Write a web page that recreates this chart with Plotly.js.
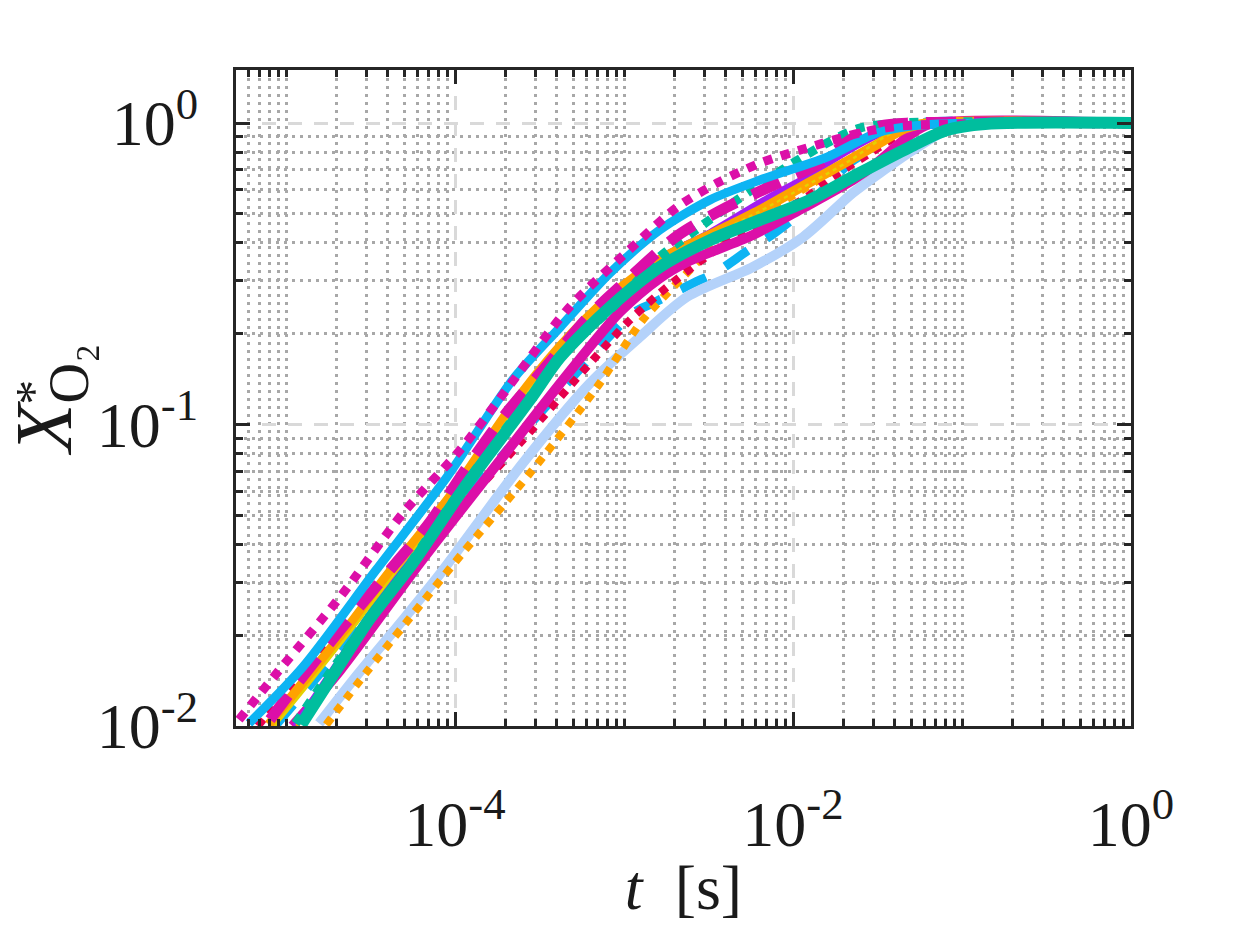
<!DOCTYPE html>
<html>
<head>
<meta charset="utf-8">
<script src="https://cdn.plot.ly/plotly-3.0.1.min.js"></script>
<style>
  body { margin: 0; background: #fff; }
  #chart { width: 1250px; height: 938px; }
</style>
</head>
<body>
<div id="chart"></div>
<script>
// time [s] and normalised O2 mole fraction
const tBlueDash = [8.61e-6, 2.09e-5, 6.21e-5, 1.85e-4, 4.6e-4, 1.13e-3, 1.49e-3, 2.56e-3, 3.55e-3, 5.35e-3, 7.62e-3, 1.1e-2, 2.17e-2, 2.86e-2, 4.02e-2, 5.27e-2, 1];
const xBlueDash = [0.0100, 0.0179, 0.0375, 0.0774, 0.137, 0.234, 0.253, 0.294, 0.321, 0.376, 0.428, 0.503, 0.737, 0.813, 0.948, 1, 1];

const tLightBlue = [1.57e-5, 2.7e-5, 4.92e-5, 8.49e-5, 2.52e-4, 6.29e-4, 1.24e-3, 2.36e-3, 5.79e-3, 1.15e-2, 2.26e-2, 3.27e-2, 5.13e-2, 8.15e-2, 0.128, 1];
const xLightBlue = [0.0102, 0.0150, 0.0225, 0.0329, 0.0745, 0.137, 0.195, 0.265, 0.333, 0.419, 0.586, 0.683, 0.813, 0.948, 0.993, 1];

const tOrangeDot = [1.73e-5, 2.97e-5, 5.13e-5, 1.11e-4, 2.78e-4, 6.92e-4, 1.29e-3, 2.36e-3, 3.7e-3, 6.38e-3, 1.26e-2, 2.17e-2, 4.3e-2, 6.47e-2, 1];
const xOrangeDot = [0.0101, 0.0150, 0.0220, 0.0375, 0.0690, 0.133, 0.222, 0.318, 0.409, 0.495, 0.622, 0.754, 0.927, 1, 1];

const tRedDot = [6.82e-6, 8.73e-6, 1.9e-5, 4.73e-5, 1.07e-4, 2.43e-4, 4.18e-4, 6.56e-4, 1.04e-3, 1.63e-3, 3.7e-3, 7.01e-3, 1.21e-2, 1.73e-2, 2.86e-2, 4.3e-2, 6.47e-2, 1];
const xRedDot = [0.0100, 0.0119, 0.0190, 0.0317, 0.0528, 0.0869, 0.123, 0.164, 0.217, 0.273, 0.388, 0.477, 0.569, 0.662, 0.795, 0.912, 0.984, 1];

const tMagenta = [1.09e-5, 2.09e-5, 6.21e-5, 1.85e-4, 4.6e-4, 9.46e-4, 1.63e-3, 2.36e-3, 5.79e-3, 1.15e-2, 2.26e-2, 3.14e-2, 4.92e-2, 6.47e-2, 1];
const xMagenta = [0.0100, 0.0153, 0.0348, 0.0762, 0.146, 0.236, 0.306, 0.346, 0.425, 0.523, 0.647, 0.737, 0.912, 0.993, 1];

const tPurple = [1.13e-5, 2.26e-5, 5.64e-5, 1.07e-4, 2.43e-4, 4.79e-4, 9.1e-4, 1.63e-3, 3.23e-3, 7.01e-3, 1.26e-2, 2.17e-2, 3.75e-2, 5.64e-2, 1];
const xPurple = [0.0100, 0.0179, 0.0389, 0.0655, 0.121, 0.191, 0.273, 0.357, 0.435, 0.564, 0.673, 0.813, 0.948, 0.993, 1];

const tOrange = [7.93e-6, 1.26e-5, 2.26e-5, 4.06e-5, 9.33e-5, 2.11e-4, 4.18e-4, 8.26e-4, 1.63e-3, 3.23e-3, 6.38e-3, 1.26e-2, 2.17e-2, 3.27e-2, 4.6e-2, 6.47e-2, 1];
const xOrange = [0.0101, 0.0139, 0.0208, 0.0321, 0.0575, 0.112, 0.181, 0.265, 0.352, 0.425, 0.514, 0.637, 0.754, 0.860, 0.960, 1, 1];

const tYellow = [8.61e-6, 1.39e-5, 2.46e-5, 4.42e-5, 1.01e-4, 2.26e-4, 4.36e-4, 8.49e-4, 1.63e-3, 3.23e-3, 6.38e-3, 1.26e-2, 2.17e-2, 4.3e-2, 1];
const xYellow = [0.0100, 0.0139, 0.0208, 0.0321, 0.0575, 0.112, 0.177, 0.259, 0.346, 0.420, 0.510, 0.630, 0.750, 0.950, 1];

const tOrangeDot2 = [1.16e-5, 1.9e-5, 2.97e-5, 5.42e-5, 1.07e-4, 2.67e-4, 4.02e-4, 7.93e-4, 1.63e-3, 3.23e-3, 6.38e-3, 1.26e-2, 2.17e-2, 4.3e-2, 6.47e-2, 1];
const xOrangeDot2 = [0.0100, 0.0153, 0.0225, 0.0348, 0.0607, 0.121, 0.167, 0.254, 0.346, 0.420, 0.510, 0.630, 0.754, 0.948, 1, 1];

const tMagentaDash = [8.04e-6, 1.21e-5, 2.09e-5, 4.12e-5, 7.11e-5, 1.18e-4, 1.98e-4, 3.5e-4, 6.29e-4, 1.04e-3, 2.06e-3, 4.06e-3, 8.37e-3, 1.45e-2, 2.17e-2, 3.27e-2, 4.92e-2, 1];
const xMagentaDash = [0.0105, 0.0142, 0.0208, 0.0329, 0.0475, 0.0723, 0.108, 0.157, 0.231, 0.301, 0.422, 0.526, 0.637, 0.737, 0.879, 0.977, 1, 1];

const tBlue = [6.04e-6, 1.26e-5, 3.41e-5, 8.97e-5, 2.2e-4, 4.18e-4, 8.26e-4, 1.63e-3, 3.23e-3, 6.38e-3, 1.59e-2, 3.14e-2, 5.64e-2, 1];
const xBlue = [0.0102, 0.0157, 0.0329, 0.0670, 0.141, 0.210, 0.318, 0.442, 0.556, 0.647, 0.771, 0.927, 0.984, 1];

const tMagentaDot = [5.27e-6, 9.1e-6, 2.09e-5, 4.92e-5, 1.07e-4, 2.11e-4, 4.6e-4, 1.19e-3, 2.06e-3, 3.55e-3, 6.38e-3, 1.26e-2, 2.49e-2, 4.3e-2, 1];
const xMagentaDot = [0.0105, 0.0153, 0.0268, 0.0508, 0.0822, 0.135, 0.240, 0.400, 0.526, 0.632, 0.736, 0.832, 0.927, 0.977, 1];

const tTealDot = [1.14e-5, 1.86e-5, 4.73e-5, 1.07e-4, 2.43e-4, 4.79e-4, 9.1e-4, 1.63e-3, 2.82e-3, 4.67e-3, 9.6e-3, 1.59e-2, 2.49e-2, 4.3e-2, 1];
const xTealDot = [0.0102, 0.0153, 0.0310, 0.0600, 0.112, 0.181, 0.253, 0.360, 0.452, 0.556, 0.726, 0.859, 0.962, 1, 1];

const tTeal = [1.23e-5, 1.98e-5, 3.1e-5, 5.64e-5, 1.11e-4, 2.78e-4, 4.18e-4, 8.26e-4, 1.63e-3, 3.23e-3, 6.38e-3, 1.26e-2, 2.49e-2, 4.92e-2, 8.15e-2, 0.137, 1];
const xTeal = [0.0101, 0.0153, 0.0225, 0.0348, 0.0607, 0.121, 0.167, 0.245, 0.333, 0.409, 0.477, 0.556, 0.683, 0.832, 0.948, 0.993, 1];

const xTickVals = [1e-4, 1e-2, 1];
const xTickText = ['10<sup>-4</sup>', '10<sup>-2</sup>', '10<sup>0</sup>'];
const yTickVals = [0.01, 0.1, 1];
const yTickText = ['10<sup>-2</sup>', '10<sup>-1</sup>', '10<sup>0</sup>'];

// minor ticks at every digit of each decade except the labelled ones
function minorVals(decades, skip) {
    const out = [];
    decades.forEach(d => {
        for (let k = 1; k <= 9; k++) {
            const v = k * Math.pow(10, d);
            if (!skip.some(s => Math.abs(s - v) / s < 1e-9)) out.push(v);
        }
    });
    return out;
}
const xMinor = minorVals([-6, -5, -4, -3, -2, -1], xTickVals).filter(v => v > 5.1e-6);
const yMinor = minorVals([-2, -1], yTickVals);

function line(t, x, color, width, dash) {
    return {
        x: t, y: x, type: 'scatter', mode: 'lines',
        line: { color: color, width: width, dash: dash || 'solid', shape: 'spline', smoothing: 0.8 },
        hoverinfo: 'skip'
    };
}

const traces = [
    line(tBlueDash, xBlueDash, '#0db4f3', 9, '28px,22px'),
    line(tLightBlue, xLightBlue, '#b4d2fa', 10),
    line(tOrangeDot, xOrangeDot, '#ffa200', 8, 'dot'),
    line(tRedDot, xRedDot, '#e6004c', 8, 'dot'),
    line(tMagenta, xMagenta, '#dc0fa8', 10),
    line(tPurple, xPurple, '#a21ef2', 6),
    line(tOrange, xOrange, '#ffa200', 10),
    line(tYellow, xYellow, '#e6d000', 2.5),
    line(tOrangeDot2, xOrangeDot2, '#ffa200', 4, 'dot'),
    line(tTealDot, xTealDot, '#00be9e', 9, 'dot'),
    line(tMagentaDash, xMagentaDash, '#dc0fa8', 11, '30px,18px'),
    line(tBlue, xBlue, '#0db4f3', 9),
    line(tMagentaDot, xMagentaDot, '#dc0fa8', 9, 'dot'),
    line(tTeal, xTeal, '#00be9e', 12)
];

const serif = 'Liberation Serif, Times New Roman, serif';

const axisCommon = {
    type: 'log',
    showline: true, linecolor: '#262626', linewidth: 3, mirror: 'allticks',
    ticks: 'inside', ticklen: 14, tickwidth: 3, tickcolor: '#262626',
    tickmode: 'array',
    showgrid: true, gridcolor: '#d9d9d9', gridwidth: 3, griddash: '14px,12px',
    tickfont: { family: serif, size: 64, color: '#1a1a1a' },
    zeroline: false
};

const minorCommon = {
    tickmode: 'array',
    ticks: 'inside', ticklen: 7, tickwidth: 3, tickcolor: '#262626',
    showgrid: true, gridcolor: '#a8a8a8', gridwidth: 3, griddash: '3px,5px'
};

const layout = {
    width: 1250, height: 938,
    margin: { l: 236, r: 119, t: 70, b: 212 },
    paper_bgcolor: '#ffffff', plot_bgcolor: '#ffffff',
    showlegend: false,
    xaxis: Object.assign({}, axisCommon, {
        range: [-5.296, 0],
        tickvals: xTickVals, ticktext: xTickText,
        ticklabelstandoff: 40,
        minor: Object.assign({ tickvals: xMinor }, minorCommon),
        title: {
            text: '<i>t</i>  [s]',
            font: { family: serif, size: 64, color: '#1a1a1a' },
            standoff: 6
        }
    }),
    yaxis: Object.assign({}, axisCommon, {
        range: [-2, 0.1758],
        tickvals: yTickVals, ticktext: yTickText,
        ticklabelstandoff: 22,
        minor: Object.assign({ tickvals: yMinor }, minorCommon),
        title: {
            text: '<i>X</i><sub>O₂</sub>',
            font: { family: serif, size: 80, color: '#1a1a1a' },
            standoff: 30
        }
    }),
    // the superscript star sits above the O2 subscript, as in X^*_{O2}
    annotations: [{
        text: '*', textangle: -90, showarrow: false,
        xref: 'paper', yref: 'paper', x: -0.2268, y: 0.508,
        xanchor: 'center', yanchor: 'middle',
        font: { family: serif, size: 50, color: '#1a1a1a' }
    }]
};

Plotly.newPlot('chart', traces, layout, { displayModeBar: false, staticPlot: true });
</script>
</body>
</html>
